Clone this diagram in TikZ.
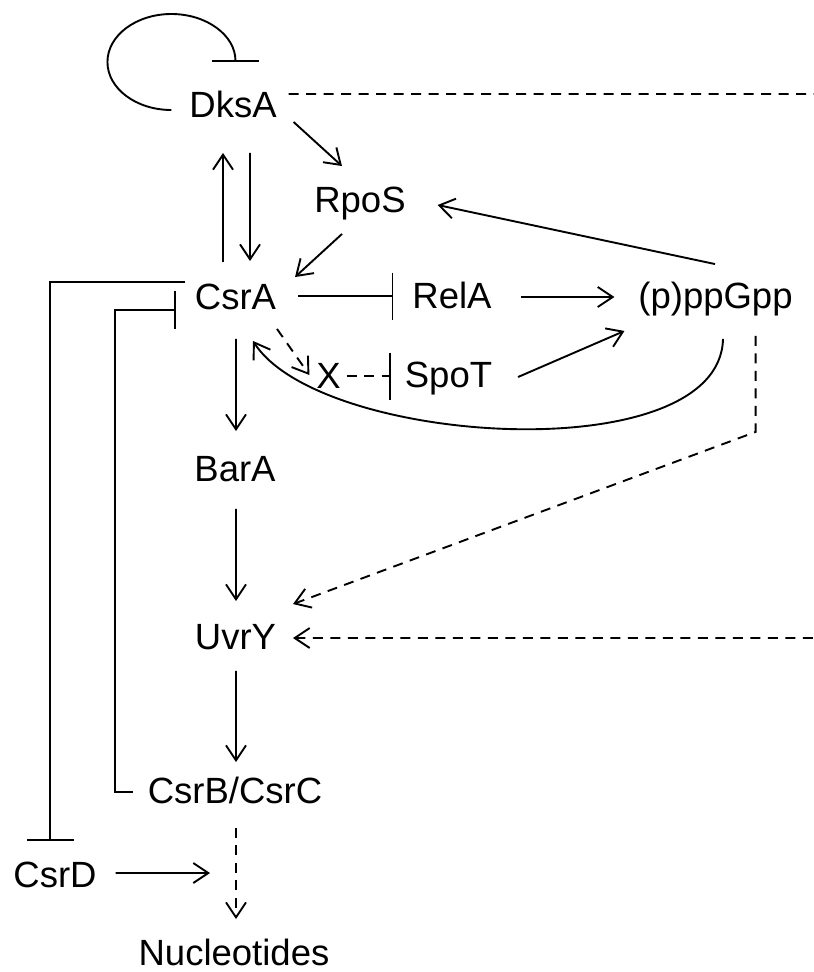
\documentclass[tikz,border=0pt]{standalone}
\usepackage{fontspec}
\setmainfont{Liberation Sans}
\usetikzlibrary{arrows.meta}
\begin{document}
\begin{tikzpicture}[x=1bp, y=-1bp, line width=1.9bp, font=\fontsize{36.5bp}{40bp}\selectfont,
	>={Straight Barb[length=15bp,width=20bp]},
	gene/.style={inner sep=0pt, text height=26bp, text depth=8bp, anchor=base},
	inh/.style={-{Bar[width=47bp]}},
	dsh/.style={dash pattern=on 10bp off 7.5bp}]
		\useasboundingbox (0,0) rectangle (814,972);
		% genes
		\node[gene] (DksA) at (233,117) {DksA};
		\node[gene] (RpoS) at (360,212) {RpoS};
		\node[gene] (CsrA) at (235.5,309) {CsrA};
		\node[gene] (RelA) at (452,308) {RelA};
		\node[gene] (ppGpp) at (715.5,308) {(p)ppGpp};
		\node[gene] (X) at (328.5,388) {X};
		\node[gene] (SpoT) at (448.5,387) {SpoT};
		\node[gene] (BarA) at (235,481) {BarA};
		\node[gene] (UvrY) at (235.5,649) {UvrY};
		\node[gene] (CsrBC) at (235,803) {CsrB/CsrC};
		\node[gene] (CsrD) at (55,887) {CsrD};
		\node[gene] (Nuc) at (234,965) {Nucleotides};
		\path (210,873) coordinate (J);
		% DksA
		\draw[inh] ([shift={(-17,2)}]DksA.west) arc[start angle=90, end angle=360, x radius=64, y radius=48];
		\draw[->] ([shift={(16,-4)}]DksA.south east)--([shift={(-18,-19)}]RpoS.north);
		\draw[->] ([shift={(-12.5,-20)}]CsrA.north)--([shift={(-10,27)}]DksA.south);
		\draw[->] ([shift={(17,27)}]DksA.south)--([shift={(14.5,-21)}]CsrA.north);
		\draw[->, dsh] ([shift={(11,-14)}]DksA.east)--(830,94)|-([shift={(16,-2)}]UvrY.east);
		% RpoS, RelA, SpoT, (p)ppGpp
		\draw[->] ([shift={(-18,13)}]RpoS.south)--([shift={(18,-5)}]CsrA.north east);
		\draw[->] ([shift={(-0.5,-17)}]ppGpp.north)--([shift={(31,2)}]RpoS.east);
		\draw[inh] ([shift={(21,-4)}]CsrA.east)--([shift={(-18,-3)}]RelA.west);
		\draw[->] ([shift={(28,-2)}]RelA.east)--([shift={(-23,-2)}]ppGpp.west);
		\draw[->] ([shift={(25,-1)}]SpoT.east)--([shift={(-13,14)}]ppGpp.south west);
		\draw[->, dsh] ([shift={(0,11)}]CsrA.south east)--([shift={(-6,-4)}]X.west);
		\draw[inh, dsh] ([shift={(5,-3)}]X.east)--([shift={(-13,-2)}]SpoT.west);
		\draw[->] ([shift={(7.5,22)}]ppGpp.south) .. controls +(-3,132) and +(67,105) .. ([shift={(17.5,23)}]CsrA.south);
		\draw[->, dsh] ([shift={(-38,19)}]ppGpp.south east)--++(0,96)--([shift={(16,-18)}]UvrY.north east);
		% Csr cascade
		\draw[->] ([shift={(0.5,21)}]CsrA.south)--([shift={(1,-23)}]BarA.north);
		\draw[->] ([shift={(1,19)}]BarA.south)--([shift={(0.5,-21)}]UvrY.north);
		\draw[->] ([shift={(0.5,13)}]UvrY.south)--([shift={(1,-14)}]CsrBC.north);
		\draw[->, dsh] ([shift={(1,16)}]CsrBC.south)--([shift={(2,-19)}]Nuc.north);
		\draw[inh] ([shift={(-9,0)}]CsrA.north west)-|([shift={(-5,-19)}]CsrD.north);
		\draw[-{Bar[width=38bp]}] ([shift={(-14,-2)}]CsrBC.west)--++(-18,0)|-([shift={(-18,10)}]CsrA.west);
		\draw[->] ([shift={(18,-5)}]CsrD.east)--(J);
	\end{tikzpicture}
\end{document}
